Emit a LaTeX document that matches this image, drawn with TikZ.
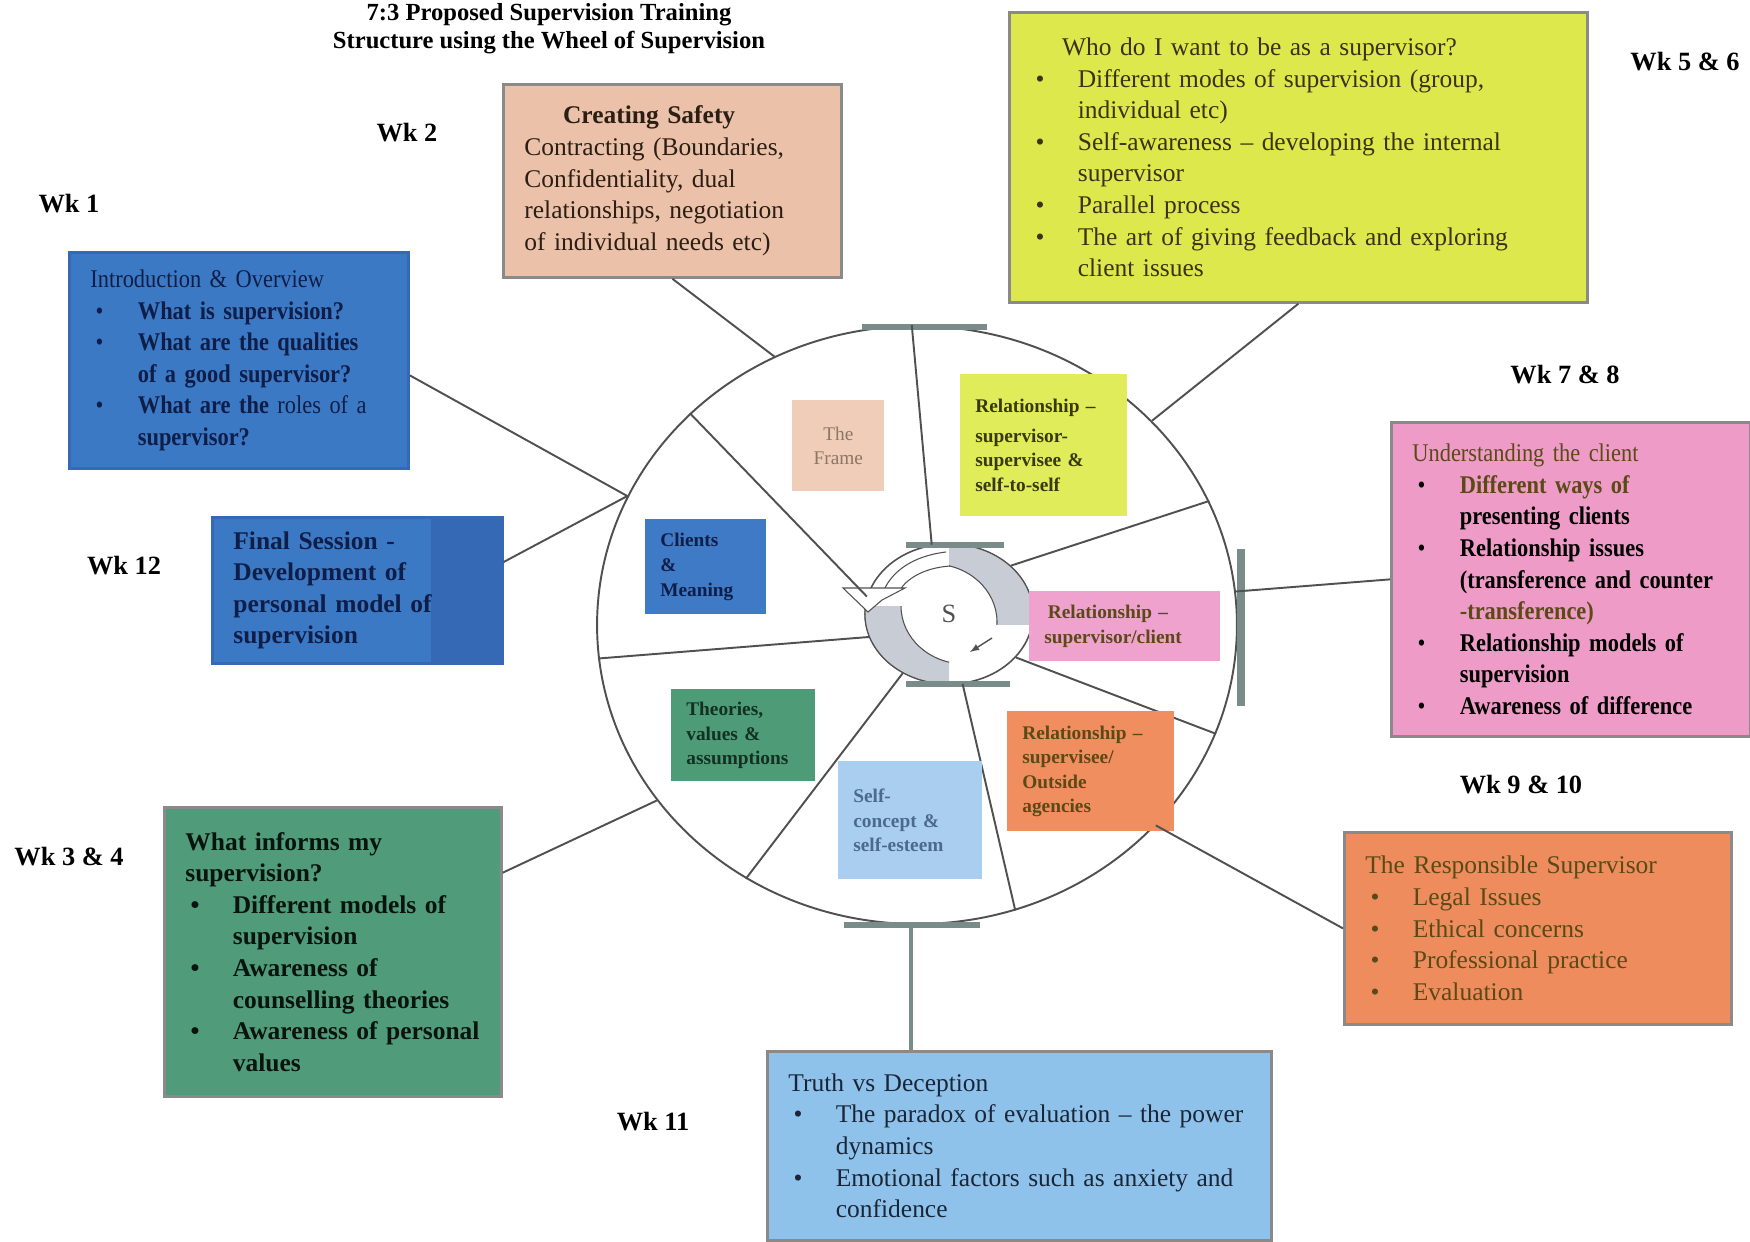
\documentclass[tikz,border=0pt]{standalone}
\usepackage{fontspec}
\setmainfont{Liberation Serif}
\newfontfamily\narrowserif{Liberation Serif}[FakeStretch=0.88]
\usetikzlibrary{shapes.geometric,calc,positioning}

% box colours
\definecolor{boxgray}{HTML}{8A8A8A}
\definecolor{linkgray}{HTML}{505050}
\definecolor{bargray}{HTML}{7A8C8A}
\definecolor{arrowgray}{HTML}{C8CCD4}
\definecolor{peach}{HTML}{EBC2A9}
\definecolor{lime}{HTML}{DCE84C}
\definecolor{introblue}{HTML}{3C79C4}
\definecolor{darkblue}{HTML}{3569B6}
\definecolor{rose}{HTML}{EE9BC8}
\definecolor{tangerine}{HTML}{EE8C5E}
\definecolor{sea}{HTML}{4F9B7A}
\definecolor{sky}{HTML}{8FC2EA}
\definecolor{navytext}{HTML}{0F1E48}
\definecolor{olivetext}{HTML}{5A4A16}
% inner labels
\definecolor{frameC}{HTML}{EFCDB9}
\definecolor{relssC}{HTML}{E0EC5A}
\definecolor{clientsC}{HTML}{3E7AC5}
\definecolor{relscC}{HTML}{F0A2CE}
\definecolor{theoriesC}{HTML}{4E9B78}
\definecolor{selfcC}{HTML}{AACEEF}
\definecolor{relsoC}{HTML}{F08E60}

\newcommand{\wbul}{\hspace*{3pt}\makebox[24pt][l]{\textbullet}}
\newcommand{\wind}{\hspace*{27pt}}

\begin{document}
\begin{tikzpicture}[x=0.02cm,y=-0.02cm,
	box/.style={draw=boxgray, line width=1.6pt, anchor=north west, inner xsep=0.42cm,
		inner ysep=0pt, align=left, font=\fontsize{14.5}{18}\selectfont},
	wk/.style={font=\fontsize{15}{18}\selectfont\bfseries},
	lab/.style={anchor=north west, inner xsep=0.3cm, inner ysep=0pt, align=left,
		font=\fontsize{11}{14}\selectfont\bfseries},
	link/.style={draw=linkgray, line width=1.1pt},
	bar/.style={draw=bargray, line width=3.5pt}]
	\useasboundingbox (0,0) rectangle (1750,1241);
	
	% title
	\node[font=\fontsize{14}{16}\selectfont\bfseries, align=center] (title) at (549,29)
	{7:3 Proposed Supervision Training\\Structure using the Wheel of Supervision};
	
	% week labels
	\node[wk] (wk1) at (69,204) {Wk 1};
	\node[wk] (wk2) at (407,133) {Wk 2};
	\node[wk] (wk34) at (69,857) {Wk 3 \& 4};
	\node[wk] (wk56) at (1685,62) {Wk 5 \& 6};
	\node[wk] (wk78) at (1565,375) {Wk 7 \& 8};
	\node[wk] (wk910) at (1521,785) {Wk 9 \& 10};
	\node[wk] (wk11) at (653,1122) {Wk 11};
	\node[wk] (wk12) at (124,566) {Wk 12};
	
	% the wheel
	\node[ellipse, draw=linkgray, line width=1.1pt, minimum width=12.8cm,
	minimum height=11.96cm, inner sep=0pt] (wheel) at (917,625) {};
	\node[ellipse, draw=linkgray, line width=0.9pt, minimum width=3.36cm,
	minimum height=2.8cm, inner sep=0pt, text=linkgray,
	font=\fontsize{15}{15}\selectfont] (hub) at (949,614) {S};
	
	% circular arrows round the hub
	\begin{scope}
		\clip (949,540) rectangle (1040,624);
		\fill[arrowgray, draw=linkgray, line width=0.6pt, even odd rule]
		(949,614) ellipse [x radius=84, y radius=70]
		(933,622) ellipse [x radius=64, y radius=58];
	\end{scope}
	\begin{scope}
		\clip (858,606) rectangle (949,690);
		\fill[arrowgray, draw=linkgray, line width=0.6pt, even odd rule]
		(949,614) ellipse [x radius=84, y radius=70]
		(965,606) ellipse [x radius=64, y radius=58];
	\end{scope}
	\draw[linkgray, line width=0.6pt] (946,552) .. controls (912,556) and (892,572) .. (884,590);
	\draw[linkgray, line width=0.6pt] (950,566) .. controls (922,568) and (906,580) .. (900,590);
	\filldraw[fill=white, draw=linkgray, line width=0.6pt]
	(843,588) -- (905,588) -- (882,600) -- (868,612) -- cycle;
	\draw[linkgray, line width=0.8pt, -latex] (992,638) -- (970,652);
	
	% bars on the wheel
	\draw[bar] (862,327) -- (987,327);
	\draw[bar] (906,545) -- (1004,545);
	\draw[bar] (906,684) -- (1010,684);
	\draw[bar, line width=4.5pt] (1241,549) -- (1241,706);
	\coordinate (bbar) at (911,925);
	\draw[bar] (844,925) -- (980,925);
	
	% spokes
	\draw[link] (hub.104) -- (wheel.91);
	\draw[link] (hub.168) -- (wheel.137);
	\draw[link] (hub.196) -- (wheel.186);
	\draw[link] (hub.232) -- (wheel.236);
	\draw[link] (hub.281) -- (wheel.289);
	\draw[link] (hub.327) -- (wheel.340);
	\draw[link] (hub.38) -- (wheel.23);
	
	% labels inside the wheel
	\node[lab, fill=frameC, minimum width=1.84cm, minimum height=1.82cm, align=center,
	inner xsep=0pt, text width=1.84cm, font=\fontsize{11}{14}\selectfont,
	text={rgb,255:red,140;green,118;blue,100}] (frame) at (792,400) {The\\Frame};
	\node[lab, fill=relssC, text width=2.74cm, minimum height=2.84cm,
	text={rgb,255:red,58;green,56;blue,16}] (relss) at (960,374)
	{Relationship –\\[3pt]supervisor-\\supervisee \&\\self-to-self};
	\node[lab, fill=clientsC, text width=1.82cm, minimum height=1.9cm,
	text=navytext] (clients) at (645,519) {Clients\\\&\\Meaning};
	\node[lab, fill=relscC, text width=3.22cm, minimum height=1.4cm,
	text=olivetext] (relsc) at (1029,591) {\hspace*{2pt}Relationship –\\supervisor/client};
	\node[lab, fill=theoriesC, text width=2.28cm, minimum height=1.84cm,
	text={rgb,255:red,20;green,48;blue,32}] (theories) at (671,689)
	{Theories,\\values \&\\assumptions};
	\node[lab, fill=selfcC, text width=2.28cm, minimum height=2.36cm,
	text={rgb,255:red,74;green,106;blue,144}] (selfc) at (838,761)
	{Self-\\concept \&\\self-esteem};
	\node[lab, fill=relsoC, text width=2.74cm, minimum height=2.4cm,
	text=olivetext] (relso) at (1007,711)
	{Relationship –\\supervisee/\\Outside\\agencies};
	
	% week boxes
	\node[box, fill=peach, text width=5.92cm, minimum height=3.86cm,
	text={rgb,255:red,43;green,30;blue,20}] (safety) at (502,83)
	{\hspace*{22pt}\textbf{Creating Safety}\\
		Contracting (Boundaries,\\
		Confidentiality, dual\\
		relationships, negotiation\\
		of individual needs etc)};
	
	\node[box, fill=lime, text width=10.72cm, minimum height=5.8cm,
	text={rgb,255:red,58;green,52;blue,20}] (yellow) at (1008,11)
	{\hspace*{18pt}Who do I want to be as a supervisor?\\
		\wbul Different modes of supervision (group,\\
		\wind individual etc)\\
		\wbul Self-awareness – developing the internal\\
		\wind supervisor\\
		\wbul Parallel process\\
		\wbul The art of giving feedback and exploring\\
		\wind client issues};
	
	\node[box, fill=introblue, draw=darkblue, text width=5.94cm, minimum height=4.32cm,
	text=navytext, font=\fontsize{14.5}{18}\selectfont\narrowserif] (intro) at (68,251)
	{Introduction \& Overview\\
		\wbul\textbf{What is supervision?}\\
		\wbul\textbf{What are the qualities}\\
		\wind\textbf{of a good supervisor?}\\
		\wbul\textbf{What are the} roles of a\\
		\wind\textbf{supervisor?}};
	
	\node[box, fill=introblue, draw=darkblue, text width=4.96cm, minimum height=2.92cm,
	text=navytext, font=\fontsize{14.5}{18}\selectfont\bfseries,
	path picture={\fill[darkblue] ($(path picture bounding box.north east)+(-1.42cm,0)$)
		rectangle (path picture bounding box.south east);}] (final) at (211,516)
	{Final Session -\\
		Development of\\
		personal model of\\
		supervision};
	
	\node[box, fill=rose, text width=6.34cm, minimum height=6.28cm,
	font=\fontsize{14.5}{18}\selectfont\narrowserif] (pink) at (1390,421)
	{{\color{olivetext}Understanding the client}\\
		\wbul{\color{olivetext}\bfseries Different ways of}\\
		\wind\textbf{presenting clients}\\
		\wbul\textbf{Relationship issues}\\
		\wind\textbf{(transference and counter}\\
		\wind{\color{olivetext}\bfseries -transference)}\\
		\wbul\textbf{Relationship models of}\\
		\wind\textbf{supervision}\\
		\wbul\textbf{Awareness of difference}};
	
	\node[box, fill=tangerine, text width=6.9cm, minimum height=3.84cm,
	text=olivetext] (orange) at (1343,831)
	{The Responsible Supervisor\\
		\wbul Legal Issues\\
		\wbul Ethical concerns\\
		\wbul Professional practice\\
		\wbul Evaluation};
	
	\node[box, fill=sea, text width=5.9cm, minimum height=5.78cm,
	text={rgb,255:red,10;green,20;blue,14}, font=\fontsize{14.5}{18}\selectfont\bfseries] (green) at (163,806)
	{What informs my\\
		supervision?\\
		\wbul Different models of\\
		\wind supervision\\
		\wbul Awareness of\\
		\wind counselling theories\\
		\wbul Awareness of personal\\
		\wind values};
	
	\node[box, fill=sky, text width=9.24cm, minimum height=3.78cm,
	text={rgb,255:red,26;green,38;blue,56}] (truth) at (766,1050)
	{Truth vs Deception\\
		\wbul The paradox of evaluation – the power\\
		\wind dynamics\\
		\wbul Emotional factors such as anxiety and\\
		\wind confidence};
	
	% links from boxes to the wheel
	\draw[link] (safety.south) -- (wheel.118);
	\draw[link] (yellow.south) -- (wheel.41);
	\draw[link] (intro.-5) -- (wheel.156);
	\draw[link] (final.11) -- (wheel.156);
	\draw[link] (pink.west) -- (wheel.6);
	\draw[link] (orange.west) -- (wheel.-40);
	\draw[link] (green.25) -- (wheel.214);
	\draw[link, line width=2.5pt, draw=bargray] (bbar) -- (bbar |- truth.north);
\end{tikzpicture}
\end{document}
